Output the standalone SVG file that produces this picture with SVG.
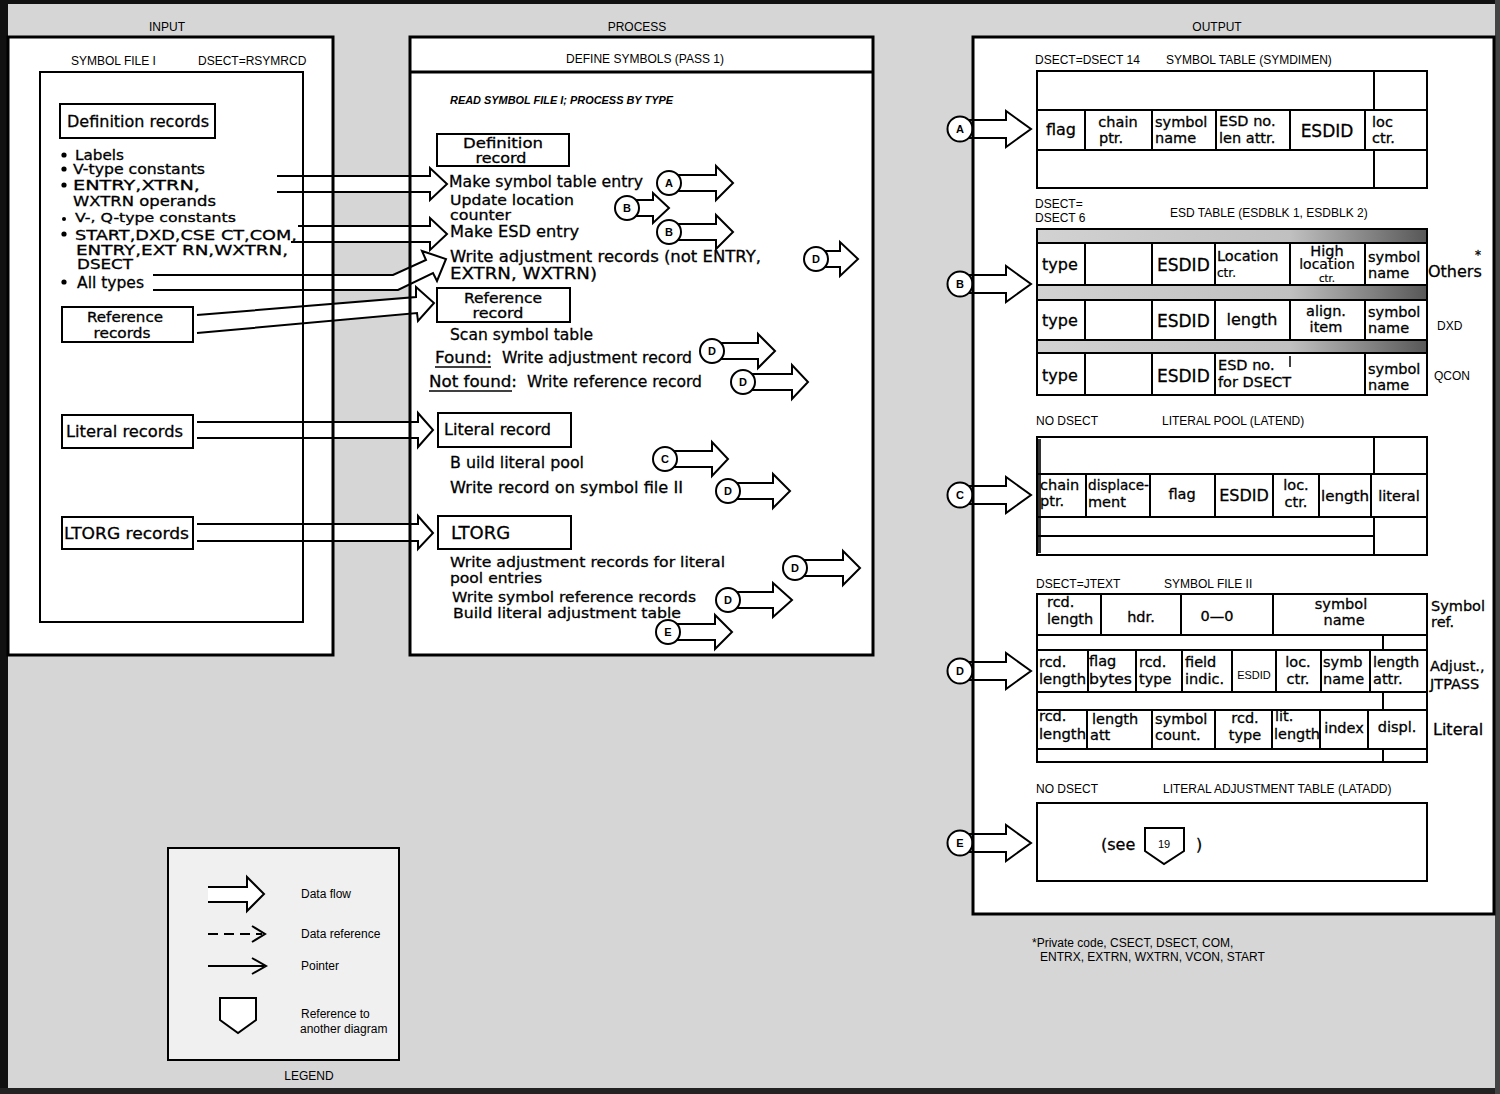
<svg xmlns="http://www.w3.org/2000/svg" width="1500" height="1094" viewBox="0 0 1500 1094">
<defs>
<style>
text{fill:#000}
.hd{font-family:"Liberation Sans",Arial,sans-serif;font-size:12px}
.t{font-family:"DejaVu Sans",Verdana,sans-serif;font-size:16px;stroke:#000;stroke-width:0.3}
.t2{font-family:"DejaVu Sans",Verdana,sans-serif;font-size:14.5px;stroke:#000;stroke-width:0.3}
.tc{font-family:"DejaVu Sans",Verdana,sans-serif;font-size:14.5px;stroke:#000;stroke-width:0.3}
.ts{font-family:"DejaVu Sans",Verdana,sans-serif;font-size:12px;stroke:#000;stroke-width:0.2}
.es{font-family:"DejaVu Sans",Verdana,sans-serif;font-size:17px;stroke:#000;stroke-width:0.3}
.lt{font-family:"Liberation Sans",Arial,sans-serif;font-size:11px;font-weight:bold}
.it{font-family:"Liberation Sans",Arial,sans-serif;font-size:10.5px;font-style:italic;font-weight:bold}
.m{text-anchor:middle}
.frame{fill:none;stroke:#000;stroke-width:3}
.box{fill:#fff;stroke:#000;stroke-width:2}
.ln{fill:none;stroke:#000;stroke-width:2}
.arr{fill:#fff;stroke:#000;stroke-width:2;stroke-linejoin:miter}
.circ{fill:#fff;stroke:#000;stroke-width:2}
.band{fill:url(#bandG)}
</style>
<linearGradient id="bandG" x1="0" y1="0" x2="1" y2="0">
<stop offset="0" stop-color="#d2d2d2"/>
<stop offset="0.65" stop-color="#c0c0c0"/>
<stop offset="1" stop-color="#585858"/>
</linearGradient>
</defs>

<g id="page">
<rect x="0" y="0" width="1500" height="1094" fill="#d6d6d6"/>
<rect x="8" y="37" width="325" height="618" fill="#fff"/>
<rect x="410" y="37" width="463" height="618" fill="#fff"/>
<rect x="973" y="37" width="521" height="877" fill="#fff"/>
<rect x="0" y="0" width="1500" height="4" fill="#111"/>
<rect x="0" y="0" width="8" height="1094" fill="#111"/>
<rect x="0" y="1088" width="1500" height="6" fill="#222"/>
<rect x="1495" y="0" width="5" height="1094" fill="#444"/>
<text class="hd m" x="167" y="31">INPUT</text>
<text class="hd m" x="637" y="31">PROCESS</text>
<text class="hd m" x="1217" y="31">OUTPUT</text>
</g>

<g id="connectors">
<path class="arr" d="M277,176 H430 V168 L447,184 L430,200 V192 H277"/>
<path class="arr" d="M298,226 H430 V218 L447,234 L430,250 V242 H291"/>
<path class="arr" d="M153,275 H393 L426,260 L422,251 L446,259 L437,281 L433,273 L398,290 H153"/>
<path class="arr" d="M197,315 L416,297 L416,287 L434,303 L418,321 L417,313 L197,333"/>
<path class="arr" d="M197,422 H418 V413 L433,430 L418,447 V438 H197"/>
<path class="arr" d="M197,524 H418 V516 L433,533 L418,549 V541 H197"/>

<path class="arr" d="M669,175 H716 V166 L733,183 L716,200 V191 H669"/>
<circle class="circ" cx="669" cy="183" r="12"/><text class="lt m" x="669" y="187">A</text>
<path class="arr" d="M627,200 H653 V193 L669,208 L653,223 V216 H627"/>
<circle class="circ" cx="627" cy="208" r="12"/><text class="lt m" x="627" y="212">B</text>
<path class="arr" d="M669,224 H716 V215 L733,232 L716,249 V240 H669"/>
<circle class="circ" cx="669" cy="232" r="12"/><text class="lt m" x="669" y="236">B</text>
<path class="arr" d="M816,251 H840 V242 L858,259 L840,276 V267 H816"/>
<circle class="circ" cx="816" cy="259" r="12"/><text class="lt m" x="816" y="263">D</text>
<path class="arr" d="M712,343 H758 V334 L775,351 L758,368 V359 H712"/>
<circle class="circ" cx="712" cy="351" r="12"/><text class="lt m" x="712" y="355">D</text>
<path class="arr" d="M743,374 H792 V365 L808,382 L792,399 V390 H743"/>
<circle class="circ" cx="743" cy="382" r="12"/><text class="lt m" x="743" y="386">D</text>
<path class="arr" d="M665,451 H712 V442 L728,459 L712,476 V467 H665"/>
<circle class="circ" cx="665" cy="459" r="12"/><text class="lt m" x="665" y="463">C</text>
<path class="arr" d="M728,483 H773 V474 L790,491 L773,508 V499 H728"/>
<circle class="circ" cx="728" cy="491" r="12"/><text class="lt m" x="728" y="495">D</text>
<path class="arr" d="M795,560 H843 V551 L860,568 L843,585 V576 H795"/>
<circle class="circ" cx="795" cy="568" r="12"/><text class="lt m" x="795" y="572">D</text>
<path class="arr" d="M728,592 H773 V583 L792,600 L773,617 V608 H728"/>
<circle class="circ" cx="728" cy="600" r="12"/><text class="lt m" x="728" y="604">D</text>
<path class="arr" d="M668,624 H715 V615 L732,632 L715,649 V640 H668"/>
<circle class="circ" cx="668" cy="632" r="12"/><text class="lt m" x="668" y="636">E</text>

<path class="arr" d="M960,120 H1006 V111 L1031,129 L1006,147 V138 H960"/>
<circle class="circ" cx="960" cy="129" r="12.5"/><text class="lt m" x="960" y="133">A</text>
<path class="arr" d="M960,275 H1006 V266 L1031,284 L1006,302 V293 H960"/>
<circle class="circ" cx="960" cy="284" r="12.5"/><text class="lt m" x="960" y="288">B</text>
<path class="arr" d="M960,486 H1006 V477 L1031,495 L1006,513 V504 H960"/>
<circle class="circ" cx="960" cy="495" r="12.5"/><text class="lt m" x="960" y="499">C</text>
<path class="arr" d="M960,662 H1006 V653 L1031,671 L1006,689 V680 H960"/>
<circle class="circ" cx="960" cy="671" r="12.5"/><text class="lt m" x="960" y="675">D</text>
<path class="arr" d="M960,834 H1006 V825 L1031,843 L1006,861 V852 H960"/>
<circle class="circ" cx="960" cy="843" r="12.5"/><text class="lt m" x="960" y="847">E</text>
</g>

<g id="input">
<rect class="frame" x="8" y="37" width="325" height="618"/>
<rect x="40" y="72" width="263" height="550" fill="none" stroke="#000" stroke-width="2"/>
<text class="hd" x="71" y="65">SYMBOL FILE I</text>
<text class="hd" x="198" y="65">DSECT=RSYMRCD</text>
<g id="definition-records">
<rect class="box" x="60" y="104" width="155" height="34"/>
<text class="t" x="67" y="127" textLength="142" lengthAdjust="spacingAndGlyphs">Definition records</text>
</g>
<g id="definition-types">
<circle cx="64" cy="155" r="2.6"/>
<text class="t2" x="75" y="160" textLength="49" lengthAdjust="spacingAndGlyphs">Labels</text>
<circle cx="64" cy="169" r="2.6"/>
<text class="t2" x="73" y="174" textLength="132" lengthAdjust="spacingAndGlyphs">V-type constants</text>
<circle cx="64" cy="185" r="2.6"/>
<text class="t2" x="73" y="190" textLength="127" lengthAdjust="spacingAndGlyphs">ENTRY,XTRN,</text>
<text class="t2" x="73" y="206" textLength="143" lengthAdjust="spacingAndGlyphs">WXTRN operands</text>
<circle cx="64" cy="219" r="2"/>
<text class="t2" x="75" y="222" textLength="161" lengthAdjust="spacingAndGlyphs" style="font-size:13px">V-, Q-type constants</text>
<circle cx="64" cy="234" r="2.6"/>
<text class="t2" x="75" y="240" textLength="222" lengthAdjust="spacingAndGlyphs">START,DXD,CSE CT,COM,</text>
<text class="t2" x="76" y="255" textLength="212" lengthAdjust="spacingAndGlyphs">ENTRY,EXT RN,WXTRN,</text>
<text class="t2" x="77" y="269" textLength="56" lengthAdjust="spacingAndGlyphs" style="font-size:13.5px">DSECT</text>
<circle cx="64" cy="282" r="2.6"/>
<text class="t" x="77" y="288" textLength="67" lengthAdjust="spacingAndGlyphs">All types</text>
</g>
<g id="reference-records">
<rect class="box" x="62" y="307" width="131" height="35"/>
<text class="t2" x="125" y="322" textLength="76" lengthAdjust="spacingAndGlyphs" text-anchor="middle">Reference</text>
<text class="t2" x="122" y="338" textLength="57" lengthAdjust="spacingAndGlyphs" text-anchor="middle">records</text>
</g>
<g id="literal-records">
<rect class="box" x="62" y="415" width="131" height="33"/>
<text class="t" x="66" y="437" textLength="117" lengthAdjust="spacingAndGlyphs">Literal  records</text>
</g>
<g id="ltorg-records">
<rect class="box" x="62" y="517" width="131" height="32"/>
<text class="t" x="64" y="539" textLength="125" lengthAdjust="spacingAndGlyphs">LTORG records</text>
</g>
</g>

<g id="process">
<rect class="frame" x="410" y="37" width="463" height="618"/>
<line x1="410" y1="72" x2="873" y2="72" stroke="#000" stroke-width="3"/>
<text class="hd m" x="645" y="63">DEFINE SYMBOLS (PASS 1)</text>
<text class="it" x="450" y="104" textLength="223" lengthAdjust="spacingAndGlyphs">READ SYMBOL FILE I; PROCESS BY TYPE</text>
<g id="definition-record">
<rect class="box" x="437" y="134" width="132" height="32"/>
<text class="t2 m" x="503" y="148" textLength="80" lengthAdjust="spacingAndGlyphs">Definition</text>
<text class="t2 m" x="501" y="163" textLength="51" lengthAdjust="spacingAndGlyphs">record</text>
</g>
<text class="t" x="449" y="187" textLength="194" lengthAdjust="spacingAndGlyphs">Make symbol table entry</text>
<text class="t2" x="450" y="205" textLength="124" lengthAdjust="spacingAndGlyphs">Update location</text>
<text class="t2" x="450" y="220" textLength="61" lengthAdjust="spacingAndGlyphs">counter</text>
<text class="t" x="450" y="237" textLength="129" lengthAdjust="spacingAndGlyphs">Make ESD entry</text>
<text class="t" x="450" y="262" textLength="311" lengthAdjust="spacingAndGlyphs">Write adjustment records (not ENTRY,</text>
<text class="t" x="450" y="279" textLength="147" lengthAdjust="spacingAndGlyphs">EXTRN, WXTRN)</text>
<g id="reference-record">
<rect class="box" x="437" y="288" width="133" height="34"/>
<text class="t2 m" x="503" y="303" textLength="78" lengthAdjust="spacingAndGlyphs">Reference</text>
<text class="t2 m" x="498" y="318" textLength="51" lengthAdjust="spacingAndGlyphs">record</text>
</g>
<text class="t" x="450" y="340" textLength="143" lengthAdjust="spacingAndGlyphs">Scan symbol table</text>
<text class="t" x="435" y="363" textLength="57" lengthAdjust="spacingAndGlyphs">Found:</text>
<line x1="435" y1="367" x2="491" y2="367" stroke="#000" stroke-width="1.5"/>
<text class="t" x="502" y="363" textLength="190" lengthAdjust="spacingAndGlyphs">Write adjustment record</text>
<text class="t" x="429" y="387" textLength="88" lengthAdjust="spacingAndGlyphs">Not found:</text>
<line x1="429" y1="391" x2="512" y2="391" stroke="#000" stroke-width="1.5"/>
<text class="t" x="527" y="387" textLength="175" lengthAdjust="spacingAndGlyphs">Write reference record</text>
<g id="literal-record">
<rect class="box" x="438" y="413" width="133" height="34"/>
<text class="t" x="444" y="435" textLength="107" lengthAdjust="spacingAndGlyphs">Literal record</text>
</g>
<text class="t" x="450" y="468" textLength="134" lengthAdjust="spacingAndGlyphs">B uild literal pool</text>
<text class="t" x="450" y="493" textLength="233" lengthAdjust="spacingAndGlyphs">Write record on symbol file II</text>
<g id="ltorg">
<rect class="box" x="438" y="516" width="133" height="33"/>
<text class="t" x="451" y="539" style="font-size:18px">LTORG</text>
</g>
<text class="t2" x="450" y="567" textLength="275" lengthAdjust="spacingAndGlyphs">Write adjustment records for literal</text>
<text class="t2" x="450" y="583" textLength="92" lengthAdjust="spacingAndGlyphs">pool entries</text>
<text class="t2" x="452" y="602" textLength="244" lengthAdjust="spacingAndGlyphs">Write symbol reference records</text>
<text class="t2" x="453" y="618" textLength="228" lengthAdjust="spacingAndGlyphs">Build literal adjustment table</text>
</g>

<g id="output">
<rect class="frame" x="973" y="37" width="521" height="877"/>

<g id="symbol-table">
<text class="hd" x="1035" y="64">DSECT=DSECT 14</text>
<text class="hd" x="1166" y="64">SYMBOL TABLE (SYMDIMEN)</text>
<rect class="box" x="1037" y="71" width="390" height="117"/>
<path class="ln" d="M1037,110 H1427 M1037,150 H1427 M1374,71 V110 M1374,150 V188 M1085,110 V150 M1152,110 V150 M1216,110 V150 M1290,110 V150 M1365,110 V150"/>
<text class="t m" x="1061" y="135">flag</text>
<text class="tc m" x="1118" y="127">chain</text>
<text class="tc m" x="1111" y="143">ptr.</text>
<text class="tc" x="1155" y="127">symbol</text>
<text class="tc" x="1155" y="143">name</text>
<text class="tc" x="1219" y="126">ESD no.</text>
<text class="tc" x="1219" y="143">len attr.</text>
<text class="es m" x="1327" y="137">ESDID</text>
<text class="tc" x="1372" y="127">loc</text>
<text class="tc" x="1372" y="143">ctr.</text>
</g>

<g id="esd-table">
<text class="hd" x="1035" y="208">DSECT=</text>
<text class="hd" x="1035" y="222">DSECT 6</text>
<text class="hd" x="1170" y="217">ESD TABLE (ESDBLK 1, ESDBLK 2)</text>
<rect class="box" x="1037" y="229" width="390" height="166"/>
<rect class="band" x="1038" y="230" width="388" height="13"/>
<rect class="band" x="1038" y="285" width="388" height="15"/>
<rect class="band" x="1038" y="340" width="388" height="13"/>
<path class="ln" d="M1037,243 H1427 M1037,285 H1427 M1037,300 H1427 M1037,340 H1427 M1037,353 H1427 M1085,243 V285 M1152,243 V285 M1215,243 V285 M1290,243 V285 M1365,243 V285 M1085,300 V340 M1152,300 V340 M1215,300 V340 M1290,300 V340 M1365,300 V340 M1085,353 V395 M1152,353 V395 M1215,353 V395 M1365,353 V395"/>
<line x1="1290" y1="356" x2="1290" y2="367" stroke="#000" stroke-width="1.5"/>
<text class="t" x="1042" y="270">type</text>
<text class="es" x="1157" y="271">ESDID</text>
<text class="tc" x="1217" y="261">Location</text>
<text class="ts" x="1217" y="277">ctr.</text>
<text class="tc m" x="1327" y="256">High</text>
<text class="ts m" x="1327" y="269" style="font-size:14px">location</text>
<text class="ts m" x="1327" y="282" style="font-size:10px">ctr.</text>
<text class="tc" x="1368" y="262">symbol</text>
<text class="tc" x="1368" y="278">name</text>
<text class="t" x="1428" y="277">Others</text>
<text class="t" x="1475" y="259" style="font-size:12px">*</text>
<text class="t" x="1042" y="326">type</text>
<text class="es" x="1157" y="327">ESDID</text>
<text class="t m" x="1252" y="325">length</text>
<text class="tc m" x="1326" y="316">align.</text>
<text class="tc m" x="1326" y="332">item</text>
<text class="tc" x="1368" y="317">symbol</text>
<text class="tc" x="1368" y="333">name</text>
<text class="hd" x="1437" y="330">DXD</text>
<text class="t" x="1042" y="381">type</text>
<text class="es" x="1157" y="382">ESDID</text>
<text class="tc" x="1218" y="370">ESD no.</text>
<text class="tc" x="1218" y="387">for DSECT</text>
<text class="tc" x="1368" y="374">symbol</text>
<text class="tc" x="1368" y="390">name</text>
<text class="hd" x="1434" y="380">QCON</text>
</g>

<g id="literal-pool">
<text class="hd" x="1036" y="425">NO DSECT</text>
<text class="hd" x="1162" y="425">LITERAL POOL (LATEND)</text>
<rect class="box" x="1037" y="437" width="390" height="118"/>
<rect x="1038" y="439" width="3" height="114" fill="#333"/>
<path class="ln" d="M1037,474 H1427 M1037,517 H1427 M1037,536 H1374 M1374,437 V474 M1374,517 V555 M1086,474 V517 M1150,474 V517 M1215,474 V517 M1273,474 V517 M1319,474 V517 M1371,474 V517"/>
<text class="tc" x="1040" y="490">chain</text>
<text class="tc" x="1040" y="506">ptr.</text>
<text class="tc" x="1088" y="490" textLength="61" lengthAdjust="spacingAndGlyphs">displace-</text>
<text class="tc" x="1088" y="507">ment</text>
<text class="tc m" x="1182" y="499">flag</text>
<text class="t m" x="1244" y="501">ESDID</text>
<text class="tc m" x="1296" y="490">loc.</text>
<text class="tc m" x="1296" y="507">ctr.</text>
<text class="tc m" x="1345" y="501" textLength="48" lengthAdjust="spacingAndGlyphs">length</text>
<text class="tc m" x="1399" y="501">literal</text>
</g>

<g id="symbol-file-ii">
<text class="hd" x="1036" y="588">DSECT=JTEXT</text>
<text class="hd" x="1164" y="588">SYMBOL FILE II</text>
<rect class="box" x="1037" y="594" width="390" height="168"/>
<path class="ln" d="M1037,635 H1427 M1037,650 H1427 M1037,692 H1427 M1037,710 H1427 M1037,749 H1427 M1101,594 V635 M1181,594 V635 M1273,594 V635 M1383,635 V650 M1383,692 V710 M1383,749 V762 M1088,650 V692 M1136,650 V692 M1182,650 V692 M1232,650 V692 M1276,650 V692 M1321,650 V692 M1370,650 V692 M1087,710 V749 M1152,710 V749 M1215,710 V749 M1272,710 V749 M1320,710 V749 M1368,710 V749"/>
<text class="tc" x="1047" y="607">rcd.</text>
<text class="tc" x="1047" y="624">length</text>
<text class="tc m" x="1141" y="622">hdr.</text>
<text class="tc m" x="1217" y="621">0—0</text>
<text class="tc m" x="1341" y="609">symbol</text>
<text class="tc m" x="1344" y="625">name</text>
<text class="tc" x="1431" y="611">Symbol</text>
<text class="tc" x="1431" y="627">ref.</text>
<text class="tc" x="1039" y="667">rcd.</text>
<text class="tc" x="1039" y="684" textLength="47" lengthAdjust="spacingAndGlyphs">length</text>
<text class="tc" x="1089" y="666">flag</text>
<text class="tc" x="1089" y="684" textLength="43" lengthAdjust="spacingAndGlyphs">bytes</text>
<text class="tc" x="1139" y="667">rcd.</text>
<text class="tc" x="1139" y="684">type</text>
<text class="tc" x="1185" y="667">field</text>
<text class="tc" x="1185" y="684">indic.</text>
<text class="lt m" x="1254" y="679" style="font-weight:normal">ESDID</text>
<text class="tc m" x="1298" y="667">loc.</text>
<text class="tc m" x="1298" y="684">ctr.</text>
<text class="tc" x="1323" y="667">symb</text>
<text class="tc" x="1323" y="684">name</text>
<text class="tc" x="1373" y="667">length</text>
<text class="tc" x="1373" y="684">attr.</text>
<text class="tc" x="1430" y="671">Adjust.,</text>
<text class="tc" x="1430" y="689">JTPASS</text>
<text class="tc" x="1039" y="721">rcd.</text>
<text class="tc" x="1039" y="739" textLength="47" lengthAdjust="spacingAndGlyphs">length</text>
<text class="tc" x="1092" y="724">length</text>
<text class="tc" x="1090" y="740">att</text>
<text class="tc" x="1155" y="724">symbol</text>
<text class="tc" x="1155" y="740">count.</text>
<text class="tc m" x="1245" y="723">rcd.</text>
<text class="tc m" x="1245" y="740">type</text>
<text class="tc" x="1275" y="721">lit.</text>
<text class="tc" x="1274" y="739" textLength="46" lengthAdjust="spacingAndGlyphs">length</text>
<text class="tc m" x="1344" y="733">index</text>
<text class="tc m" x="1397" y="732">displ.</text>
<text class="t" x="1433" y="735">Literal</text>
</g>

<g id="literal-adjustment-table">
<text class="hd" x="1036" y="793">NO DSECT</text>
<text class="hd" x="1163" y="793">LITERAL ADJUSTMENT TABLE (LATADD)</text>
<rect class="box" x="1037" y="803" width="390" height="78"/>
<text class="t" x="1101" y="850">(see</text>
<path class="box" d="M1145,828 H1184 V851 L1164,864 L1145,851 Z"/>
<text class="lt m" x="1164" y="848" style="font-weight:normal">19</text>
<text class="t" x="1196" y="850">)</text>
</g>
</g>

<g id="footnote">
<text class="hd" x="1032" y="947">*Private code, CSECT, DSECT, COM,</text>
<text class="hd" x="1040" y="961">ENTRX, EXTRN, WXTRN, VCON, START</text>
</g>

<g id="legend">
<rect x="168" y="848" width="231" height="212" fill="#f0f0f0" stroke="#000" stroke-width="2"/>
<path class="arr" d="M208,887 H247 V877 L264,894 L247,911 V902 H208"/>
<line x1="208" y1="934" x2="262" y2="934" stroke="#000" stroke-width="2" stroke-dasharray="10,6"/>
<polyline class="ln" points="252,926 265,934 252,942"/>
<line x1="208" y1="966" x2="264" y2="966" stroke="#000" stroke-width="2"/>
<polyline class="ln" points="252,958 266,966 252,974"/>
<path class="box" d="M220,998 H256 V1020 L238,1033 L220,1020 Z"/>
<text class="hd" x="301" y="898">Data flow</text>
<text class="hd" x="301" y="938">Data reference</text>
<text class="hd" x="301" y="970">Pointer</text>
<text class="hd" x="301" y="1018">Reference to</text>
<text class="hd" x="300" y="1033">another diagram</text>
<text class="hd m" x="309" y="1080">LEGEND</text>
</g>
</svg>
